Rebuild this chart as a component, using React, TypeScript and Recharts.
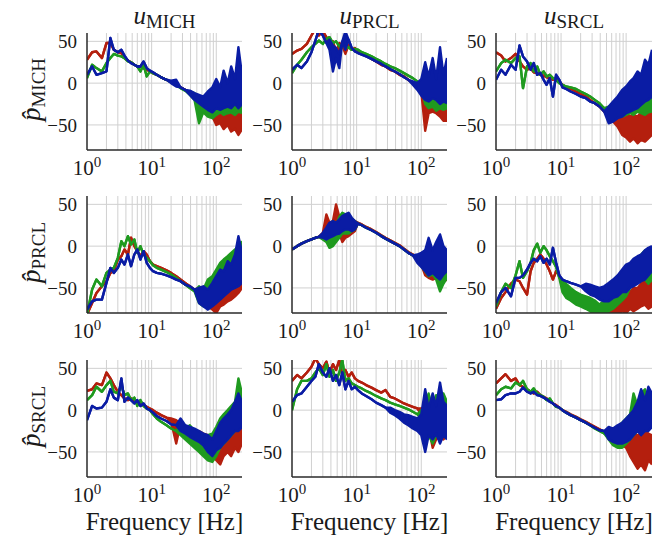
import React from 'react';
import { ComposedChart, Area, XAxis, YAxis, CartesianGrid } from 'recharts';

type V = number | [number, number];

// shared frequency grid [Hz]
const F = [1, 1.2, 1.4, 1.7, 2, 2.3, 2.6, 3, 3.4, 3.8, 4.3, 4.8, 5.4, 6, 6.7, 7.5, 8.4, 9.4, 10.5, 12, 14, 17, 20, 24, 28, 33, 39, 46, 54, 63, 74, 87, 100, 115, 130, 150, 170, 195, 220, 250];

const X_TICKS = [1, 10, 100];
const X_TICK_EXP = ['0', '1', '2'];
const Y_TICKS = [-50, 0, 50];
const GRID_F = [2, 3, 4, 5, 6, 7, 8, 9, 10, 20, 30, 40, 50, 60, 70, 80, 90, 100];
const COL_LABELS = ['MICH', 'PRCL', 'SRCL'];
const ROW_LABELS = ['MICH', 'PRCL', 'SRCL'];
const X_LABEL = 'Frequency [Hz]';

// row 1: p_MICH
const m_m_red: V[] = [28, 37, 38, 30, 48, 48, 40, 37, 36, 30, 27, 25, 22, 20, 20, 18, 16, 14, 12, 10, 7, 4, 1, -2, -5, -8, -11, -14, -17, [-24, -18], [-30, -20], [-40, -22], [-50, -28], [-48, -30], [-55, -28], [-50, -30], [-58, -32], [-55, -28], [-62, -30], [-55, -25]];
const m_m_green: V[] = [6, 22, 18, 14, 24, 30, 35, 33, 32, 30, 26, 25, 22, 20, 14, 22, 8, 14, 12, 10, 7, 4, 1, -2, -6, -9, [-14, -10], [-20, -12], [-48, -16], [-35, -18], [-40, -20], [-42, -15], [-38, -12], [-35, -10], [-38, -10], [-36, -12], [-35, -8], [-38, -12], [-34, -5], [-36, -10]];
const m_m_blue: V[] = [10, 20, 10, 12, 14, 54, 40, 37, 40, 33, 27, 24, 22, 20, 20, 26, 18, 15, 13, 10, 7, 4, [0, 3], [-4, 4], -5, -8, [-14, -9], [-20, -12], [-24, -14], [-28, -16], [-32, -10], [-35, -5], [-30, 5], [-32, -5], [-30, 15], [-28, 0], [-30, 20], [-25, 5], [-30, 43], [-25, 10]];

const p_m_red: V[] = [35, 39, 41, 47, 57, 65, 57, 62, 55, 45, 50, 37, [38, 48], 45, [35, 50], 45, 40, 42, 37, 35, 33, 29, 26, 22, 20, 16, 14, 10, 8, 4, 0, -3, [-10, -6], [-57, -12], [-36, -12], [-34, -14], [-36, -10], [-40, -14], [-45, -18], [-45, -25]];
const p_m_green: V[] = [12, 22, 28, 37, 43, 47, 51, 47, 53, 55, 48, 50, 44, 46, 42, 43, 40, 41, 40, 37, 35, 32, 29, 26, 23, 20, 18, 15, 12, 9, 6, 2, [-6, 0], [-25, -4], [-30, -6], [-28, -5], [-33, -8], [-30, -8], [-32, -10], [-30, -12]];
const p_m_blue: V[] = [16, 22, 18, 26, 37, 51, 64, 57, 48, [40, 52], [14, 45], [30, 42], [18, 35], 50, [40, 62], 52, 42, 38, 36, 34, 32, 29, 26, 23, 20, 17, 14, 11, 7, 4, [-2, 2], [-8, 0], [-15, 5], [-20, 25], [-22, 8], [-18, 30], [-20, 5], [-25, 43], [-22, 10], [-24, 30]];

const s_m_red: V[] = [37, 33, 26, 30, 35, 26, 20, 16, 18, 13, 12, 10, 9, 7, 6, 4, 6, 2, -2, -5, -7, -10, -13, -16, -20, -24, -28, -34, -40, -46, [-52, -40], [-62, -38], [-65, -35], [-70, -40], [-66, -38], [-72, -40], [-68, -35], [-70, -40], [-66, -32], [-62, -28]];
const s_m_green: V[] = [14, 24, 28, 24, 30, 32, -6, 20, 24, 14, 20, 10, 14, 8, 10, 6, 4, 0, -2, -4, -5, -7, -10, -13, -16, -20, -24, -30, [-44, -28], [-44, -32], [-40, -24], [-40, -10], [-38, -12], [-36, -15], [-38, -10], [-34, -10], [-36, -8], [-38, -12], [-35, -10], [-34, -12]];
const s_m_blue: V[] = [4, 16, 10, 22, 16, 45, 32, 26, 16, 24, 10, 12, 4, -2, 6, -16, 10, 4, -5, -7, -10, -13, -16, -18, -22, -24, -28, -34, [-48, -28], [-46, -22], [-42, -16], [-40, -8], [-36, -4], [-34, 2], [-32, 6], [-30, 14], [-26, 10], [-22, 28], [-20, 22], [-16, 40]];

// row 2: p_PRCL
const m_p_red: V[] = [-82, -68, -56, -48, -42, -32, -30, -16, -12, -4, -10, 10, 0, -6, -12, -6, -10, -18, -22, -24, -26, -29, -32, -36, -40, -44, -48, -52, [-58, -50], [-68, -52], [-72, -48], [-76, -44], [-80, -40], [-72, -38], [-70, -30], [-66, -24], [-64, -22], [-60, -20], [-56, -16], [-50, -20]];
const m_p_green: V[] = [-82, -52, -40, -48, -32, -28, -26, -14, 6, 0, 12, 2, 8, -8, 0, -10, -14, -18, -23, -26, -28, -31, -34, -38, -42, -46, -50, -54, [-68, -48], [-72, -52], [-68, -40], [-64, -36], [-60, -28], [-56, -20], [-52, -16], [-44, -12], [-40, -8], [-36, -4], [-32, 0], [-28, 6]];
const m_p_blue: V[] = [-76, -66, -64, -64, -44, -26, -32, -26, -16, -22, -10, -24, -10, -4, -16, -6, -20, -26, -30, -32, -33, -35, -37, -40, -42, -46, -48, -52, [-68, -50], [-72, -48], [-76, -52], [-72, -44], [-68, -36], [-64, -28], [-60, -30], [-56, -18], [-52, -22], [-50, -10], [-48, 12], [-44, -8]];

const p_p_red: V[] = [-4, 0, 3, 6, 8, 10, 11, [10, 16], [14, 38], [12, 28], [10, 30], [20, 50], [15, 35], [5, 30], [10, 35], [12, 30], [15, 32], [18, 30], 28, 26, 23, 20, 17, 13, 10, 7, 4, 1, -3, -7, -10, -14, [-22, -12], [-35, -10], [-38, -8], [-40, -10], [-38, -12], [-40, -8], [-42, -10], [-40, -15]];
const p_p_green: V[] = [-4, 0, 3, 6, 8, 10, 11, [8, 14], [5, 20], [-2, 25], [0, 30], [5, 25], [10, 35], [15, 40], [15, 38], [15, 32], [18, 33], [20, 30], 27, 25, 22, 19, 16, 12, 9, 6, 3, 0, -4, -8, -11, -15, [-24, -12], [-30, -5], [-36, -8], [-34, -4], [-40, -10], [-54, -12], [-45, -5], [-38, -10]];
const p_p_blue: V[] = [-4, 0, 3, 6, 8, 10, 11, [10, 16], [8, 22], [10, 28], [12, 30], [14, 28], [15, 32], [18, 36], [20, 38], [20, 40], [18, 34], [20, 30], 27, 25, 22, 19, 16, 12, 9, 6, 3, 0, -4, -8, -11, [-20, -10], [-25, -8], [-30, -5], [-35, 10], [-32, -5], [-36, 5], [-40, 14], [-34, 0], [-30, -5]];

const s_p_red: V[] = [-75, -62, -55, -45, -40, -42, -50, -58, -30, -20, -15, -10, -15, -22, -30, -40, -30, -35, -45, -48, -55, -60, -65, -70, -75, -80, -82, -82, [-82, -75], [-82, -70], [-82, -65], [-78, -60], [-80, -55], [-75, -55], [-78, -50], [-75, -50], [-72, -45], [-70, -40], [-75, -45], [-72, -42]];
const s_p_green: V[] = [-72, -55, -45, -50, -35, -18, -38, -30, -20, -5, 3, -8, 0, -5, -12, -18, -25, -38, [-55, -40], [-62, -45], [-65, -50], [-70, -55], [-72, -58], [-75, -60], [-78, -62], [-82, -65], [-82, -70], [-82, -65], [-78, -55], [-75, -45], [-70, -40], [-65, -35], [-60, -30], [-50, -25], [-45, -20], [-40, -15], [-35, -10], [-40, -5], [-45, -5], [-40, -3]];
const s_p_blue: V[] = [-68, -55, -50, -60, -38, -38, -35, -28, -20, -15, -18, -12, -20, -15, -22, -2, -20, -35, -40, -42, -44, -46, -48, [-54, -45], [-58, -46], [-60, -48], [-64, -50], [-66, -48], [-66, -44], [-62, -40], [-60, -35], [-55, -28], [-55, -22], [-50, -20], [-48, -15], [-45, -12], [-42, -10], [-40, -5], [-35, -2], [-30, 0]];

// row 3: p_SRCL
const m_s_red: V[] = [23, 25, 32, 30, 45, 38, 30, 22, 18, 14, 12, 14, 10, 8, 10, 6, 4, 2, 0, -3, -6, -9, [-14, -10], [-40, -12], -16, -20, -24, -28, [-35, -25], [-40, -28], [-45, -30], [-55, -30], [-60, -25], [-65, -25], [-55, -20], [-50, -15], [-55, -15], [-45, -10], [-50, -10], [-40, -5]];
const m_s_green: V[] = [12, 18, 28, 22, 30, 35, 22, 20, 30, 18, 20, 12, 15, 5, 12, 5, 2, 0, -5, -10, -14, -18, -22, -25, [-30, -18], [-35, -22], [-40, -18], [-45, -25], [-50, -30], [-55, -32], [-60, -30], [-62, -28], [-55, -20], [-45, -10], [-40, -5], [-35, 0], [-30, 5], [-25, 10], [-20, 38], [-15, 20]];
const m_s_blue: V[] = [-12, 5, 2, 3, 10, 25, 15, 12, 38, 10, 15, 12, 8, 12, 5, 8, 2, 0, -3, -7, -10, -13, -17, -18, [-25, -10], [-28, -18], [-32, -20], [-35, -22], [-38, -25], [-42, -28], [-50, -30], [-55, -35], [-48, -25], [-45, -15], [-40, -10], [-35, -5], [-30, 0], [-25, 10], [-25, 20], [-20, 10]];

const p_s_red: V[] = [35, 42, 38, 45, 52, 62, 55, 50, 58, 45, 55, 48, 60, 42, 48, 40, 45, 38, 35, 33, 30, 27, 24, 21, 24, 16, 14, 11, 8, 6, 4, 2, [-5, 2], [-15, 5], [-20, 10], [-45, 15], [-35, 5], [-30, 20], [-35, 10], [-30, 5]];
const p_s_green: V[] = [0, 25, 35, 35, 38, 45, 50, 42, 55, 40, 48, 35, 45, 60, 35, 38, 32, 30, 28, 26, 23, 20, 17, 14, 12, 9, 7, 5, 3, 1, -2, -5, [-10, 0], [-25, 5], [-30, 20], [-40, 0], [-30, 18], [-35, 5], [-30, 20], [-25, 10]];
const p_s_blue: V[] = [10, 18, 20, 28, 35, 40, 55, 45, 40, 50, 35, 42, 30, 45, 25, 35, 25, 28, 24, 20, 17, 13, 9, 6, 3, [-3, 3], [-6, 0], [-10, -2], [-15, -5], [-18, -6], [-22, -8], [-25, -10], [-30, -5], [-50, 25], [-30, 2], [-35, 20], [-28, 5], [-40, 33], [-30, 10], [-35, 5]];

const s_s_red: V[] = [32, 38, 43, 35, 38, 30, 28, 25, 22, 20, 22, 18, 16, 14, 12, 8, 6, 3, 0, -2, -5, -8, -11, -14, -17, -20, -23, -26, [-32, -26], [-36, -25], [-40, -22], [-42, -20], [-45, -25], [-55, -30], [-62, -28], [-70, -30], [-65, -28], [-72, -25], [-60, -28], [-65, -30]];
const s_s_green: V[] = [18, 25, 28, 26, 33, 30, 35, 25, 22, 26, 20, 18, 16, 12, 14, 8, 4, 3, 0, -3, -6, -9, -12, -15, -18, -22, -25, -28, [-35, -22], [-42, -22], [-45, -20], [-45, -15], [-40, -10], [-35, -5], [-30, 20], [-25, 5], [-20, 20], [-25, 25], [-15, 10], [-10, 20]];
const s_s_blue: V[] = [12, 13, 18, 20, 20, 22, 27, 22, 20, 22, 18, 17, 15, 13, 10, 8, 5, 3, 0, -3, -6, -9, -12, -15, -18, -21, -24, -25, [-35, -20], [-38, -22], [-40, -18], [-40, -15], [-38, -10], [-35, -5], [-30, 0], [-25, 10], [-30, 25], [-25, 12], [-25, 28], [-20, 20]];

const PANELS: V[][][][] = [
  [[m_m_red, m_m_green, m_m_blue], [p_m_red, p_m_green, p_m_blue], [s_m_red, s_m_green, s_m_blue]],
  [[m_p_red, m_p_green, m_p_blue], [p_p_red, p_p_green, p_p_blue], [s_p_red, s_p_green, s_p_blue]],
  [[m_s_red, m_s_green, m_s_blue], [p_s_red, p_s_green, p_s_blue], [s_s_red, s_s_green, s_s_blue]],
];

const COLORS = ['#b41f0e', '#1f9a1f', '#0a1ca4'];
const KEYS = ['r', 'g', 'b'];
const FONT = '"Liberation Serif", "DejaVu Serif", serif';
const TXT = '#1a1a1a';

const PLOT_LEFT = [87, 292, 496];
const PLOT_W = [155, 155, 156];
const PLOT_TOP = [33, 196, 360];
const PLOT_H = 117;
const Y_AXIS_W = 50;
const X_AXIS_H = 32;
const M_TOP = 5;
const M_RIGHT = 5;

const toR = (v: V): [number, number] => (Array.isArray(v) ? v : [v, v]);

const XTick = (props: any) => {
  const { x, y, payload } = props;
  const idx = X_TICKS.indexOf(payload.value);
  return (
    <text x={x} y={y + 25} textAnchor="middle" fontFamily={FONT} fontSize={21} fill={TXT}>
      <tspan>10</tspan>
      <tspan dy={-8} fontSize={15}>{X_TICK_EXP[idx]}</tspan>
    </text>
  );
};

const YTick = (props: any) => {
  const { x, y, payload } = props;
  const v = payload.value as number;
  const label = v < 0 ? '\u2212' + Math.abs(v) : String(v);
  return (
    <text x={x - 10} y={y} dy="0.35em" textAnchor="end" fontFamily={FONT} fontSize={19} fill={TXT}>
      {label}
    </text>
  );
};

function Panel({ series, col, row }: { series: V[][]; col: number; row: number }) {
  const data = F.map((f, i) => ({
    f,
    r: toR(series[0][i]),
    g: toR(series[1][i]),
    b: toR(series[2][i]),
  }));
  const w = Y_AXIS_W + PLOT_W[col] + M_RIGHT;
  const h = M_TOP + PLOT_H + X_AXIS_H;
  return (
    <div style={{ position: 'absolute', left: PLOT_LEFT[col] - Y_AXIS_W, top: PLOT_TOP[row] - M_TOP }}>
      <ComposedChart width={w} height={h} data={data} margin={{ top: M_TOP, right: M_RIGHT, bottom: 0, left: 0 }}>
        <CartesianGrid stroke="#d0d0d0" strokeWidth={1} verticalValues={GRID_F} horizontalValues={Y_TICKS} />
        <XAxis
          dataKey="f"
          type="number"
          scale="log"
          domain={[1, 250]}
          ticks={X_TICKS}
          interval={0}
          allowDataOverflow
          height={X_AXIS_H}
          tickLine={false}
          tickSize={0}
          tickMargin={0}
          axisLine={{ stroke: '#2a2a2a', strokeWidth: 1.5 }}
          tick={<XTick />}
        />
        <YAxis
          type="number"
          domain={[-80, 60]}
          ticks={Y_TICKS}
          interval={0}
          allowDataOverflow
          width={Y_AXIS_W}
          tickLine={false}
          tickSize={0}
          tickMargin={0}
          axisLine={{ stroke: '#2a2a2a', strokeWidth: 1.5 }}
          tick={<YTick />}
        />
        {KEYS.map((k, i) => (
          <Area
            key={k}
            dataKey={k}
            type="linear"
            stroke={COLORS[i]}
            strokeWidth={2.4}
            strokeLinejoin="round"
            fill={COLORS[i]}
            fillOpacity={1}
            dot={false}
            activeDot={false}
            isAnimationActive={false}
          />
        ))}
      </ComposedChart>
    </div>
  );
}

export default function App() {
  return (
    <div style={{ position: 'absolute', left: 0, top: 0, width: 664, height: 540, background: '#fff' }}>
      {PANELS.map((rowSeries, row) =>
        rowSeries.map((series, col) => <Panel key={`${row}-${col}`} series={series} col={col} row={row} />)
      )}
      <svg width={664} height={540} style={{ position: 'absolute', left: 0, top: 0, pointerEvents: 'none' }}>
        {COL_LABELS.map((lab, col) => (
          <text key={'t' + col} x={PLOT_LEFT[col] + PLOT_W[col] / 2} y={24} textAnchor="middle" fontFamily={FONT} fill={TXT}>
            <tspan fontStyle="italic" fontSize={25}>u</tspan>
            <tspan fontSize={19} dy={4}>{lab}</tspan>
          </text>
        ))}
        {ROW_LABELS.map((lab, row) => (
          <text
            key={'y' + row}
            transform={`translate(40, ${PLOT_TOP[row] + PLOT_H / 2 - 2}) rotate(-90)`}
            textAnchor="middle"
            fontFamily={FONT}
            fill={TXT}
          >
            <tspan fontStyle="italic" fontSize={27}>{'p\u0302'}</tspan>
            <tspan fontSize={19} dy={5}>{lab}</tspan>
          </text>
        ))}
        {COL_LABELS.map((_, col) => (
          <text key={'x' + col} x={PLOT_LEFT[col] + PLOT_W[col] / 2} y={530} textAnchor="middle" fontFamily={FONT} fontSize={25} fill={TXT}>
            {X_LABEL}
          </text>
        ))}
      </svg>
    </div>
  );
}
